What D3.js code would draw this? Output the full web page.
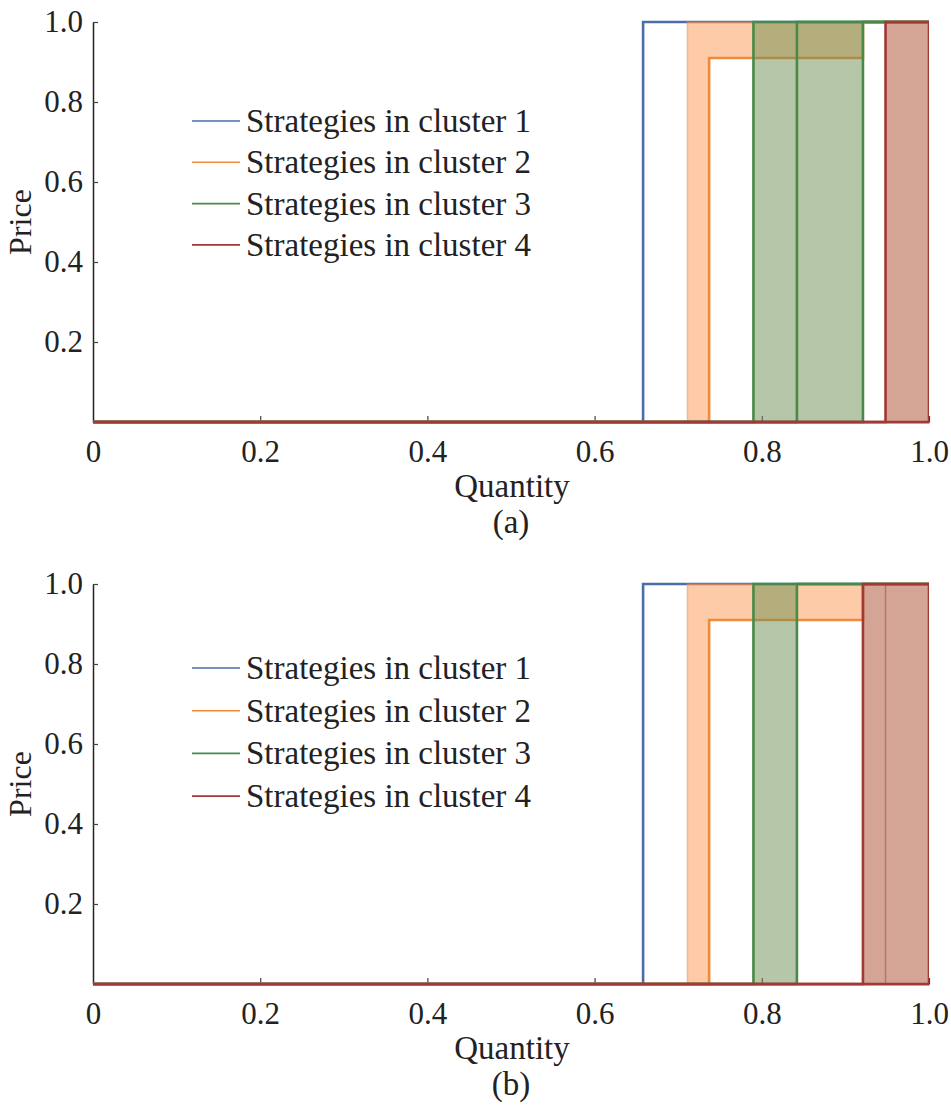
<!doctype html>
<html>
<head>
<script src="https://d3js.org/d3.v7.min.js"></script>
<style>
  body { margin: 0; background: #fff; }
  text { font-family: "Liberation Serif", "Times New Roman", serif; fill: #222; }
</style>
</head>
<body>
<svg width="951" height="1105"></svg>
<script>
// legend labels and ticks
var clusterLabels = ["Strategies in cluster 1", "Strategies in cluster 2",
                     "Strategies in cluster 3", "Strategies in cluster 4"];
var xTickValues = [0, 0.2, 0.4, 0.6, 0.8, 1.0];
var yTickValues = [0.2, 0.4, 0.6, 0.8, 1.0];
var captions = ["(a)", "(b)"];

// each strategy is a list of [quantity, price] steps (price is 0 before the first step)
var strategiesA = [
    [ [[0.658, 1]] ],
    [ [[0.711, 1]], [[0.737, 0.91], [0.921, 1]] ],
    [ [[0.790, 1]], [[0.842, 1]], [[0.921, 1]] ],
    [ [[0.948, 1]], [[1.0, 1]] ]
];
var strategiesB = [
    [ [[0.658, 1]] ],
    [ [[0.711, 1]], [[0.737, 0.91], [0.921, 1]] ],
    [ [[0.790, 1]], [[0.842, 1]] ],
    [ [[0.921, 1]], [[0.948, 1]], [[1.0, 1]] ]
];

// drawing style (kept apart from the data)
var lineColors = ["#4a6ea8", "#ee8a3c", "#4a8a48", "#a33838"];
var fillColors = [null, "#fc984f", "#6b8f51", "#a94b2a"];
var faintA = [[false], [true, false], [false, false, false], [false, false]];
var faintB = [[false], [true, false], [false, false], [false, true, false]];

var svg = d3.select("svg");
var xScale = d3.scaleLinear().domain([0, 1]).range([93, 929]);

function priceAt(steps, q) {
    var p = 0;
    steps.forEach(function (s) { if (s[0] <= q) p = s[1]; });
    return p;
}

function drawPanel(idx, top, strategies, faint, legendTop, legendStep) {
    var yScale = d3.scaleLinear().domain([0, 1]).range([top + 400, top]);
    var g = svg.append("g");

    g.append("clipPath").attr("id", "clip" + idx)
      .append("rect")
      .attr("x", xScale(0) - 5).attr("y", yScale(1) - 5)
      .attr("width", xScale(1) - xScale(0) + 5)
      .attr("height", yScale(0) - yScale(1) + 10);

    // axes
    var yAxis = g.append("g")
      .attr("transform", "translate(" + xScale(0) + ",0)")
      .call(d3.axisLeft(yScale).tickValues(yTickValues).tickSizeInner(-5).tickSizeOuter(0)
            .tickPadding(10).tickFormat(d3.format(".1f")));
    var xAxis = g.append("g")
      .attr("transform", "translate(0," + yScale(0) + ")")
      .call(d3.axisBottom(xScale).tickValues(xTickValues).tickSizeInner(-6).tickSizeOuter(0)
            .tickPadding(18).tickFormat(function (d) { return d === 0 ? "0" : d3.format(".1f")(d); }));
    [xAxis, yAxis].forEach(function (a) {
        a.select(".domain").attr("stroke", "#222").attr("stroke-width", 1.5);
        a.selectAll(".tick line").attr("stroke", "#444").attr("stroke-width", 1.2);
        a.selectAll(".tick text").style("font-size", "31px").attr("fill", "#222");
    });
    xAxis.selectAll(".tick").filter(function (d) { return d === 0; }).select("line").remove();

    var plot = g.append("g").attr("clip-path", "url(#clip" + idx + ")");

    var line = d3.line()
      .x(function (d) { return xScale(d[0]); })
      .y(function (d) { return yScale(d[1]); })
      .curve(d3.curveStepAfter);

    var area = d3.area()
      .x(function (d) { return xScale(d.q); })
      .y0(function (d) { return yScale(d.lo); })
      .y1(function (d) { return yScale(d.hi); })
      .curve(d3.curveStepAfter);

    strategies.forEach(function (cluster, c) {
        // envelope fill between the strategies of a cluster
        if (cluster.length > 1) {
            var qs = [0, 1];
            cluster.forEach(function (s) { s.forEach(function (st) { qs.push(st[0]); }); });
            qs = Array.from(new Set(qs)).sort(d3.ascending);
            var env = qs.map(function (q) {
                var ps = cluster.map(function (s) { return priceAt(s, q); });
                return { q: q, lo: d3.min(ps), hi: d3.max(ps) };
            });
            plot.append("path").datum(env)
              .attr("d", area)
              .attr("fill", fillColors[c])
              .attr("fill-opacity", 0.5);
        }
        cluster.forEach(function (s, k) {
            var pts = [[0, 0]].concat(s).concat([[1, s[s.length - 1][1]]]);
            plot.append("path").datum(pts)
              .attr("d", line)
              .attr("fill", "none")
              .attr("stroke", lineColors[c])
              .attr("stroke-width", faint[c][k] ? 1.5 : 2.6)
              .attr("stroke-opacity", faint[c][k] ? 0.45 : 1);
        });
    });

    // legend
    var leg = g.append("g");
    clusterLabels.forEach(function (label, i) {
        var ly = legendTop + i * legendStep;
        leg.append("line")
          .attr("x1", 192).attr("x2", 240).attr("y1", ly).attr("y2", ly)
          .attr("stroke", lineColors[i]).attr("stroke-width", 1.6);
        leg.append("text")
          .attr("x", 246).attr("y", ly + 11)
          .style("font-size", "33px")
          .text(label);
    });

    // labels
    g.append("text")
      .attr("transform", "translate(31," + (top + 200) + ") rotate(-90)")
      .attr("text-anchor", "middle")
      .style("font-size", "32px")
      .text("Price");
    g.append("text")
      .attr("x", 512).attr("y", top + 475)
      .attr("text-anchor", "middle")
      .style("font-size", "33px")
      .text("Quantity");
    g.append("text")
      .attr("x", 511).attr("y", top + 511)
      .attr("text-anchor", "middle")
      .style("font-size", "33px")
      .text(captions[idx]);
}

drawPanel(0, 22, strategiesA, faintA, 121, 41.3);
drawPanel(1, 584, strategiesB, faintB, 668, 42.7);
</script>
</body>
</html>
